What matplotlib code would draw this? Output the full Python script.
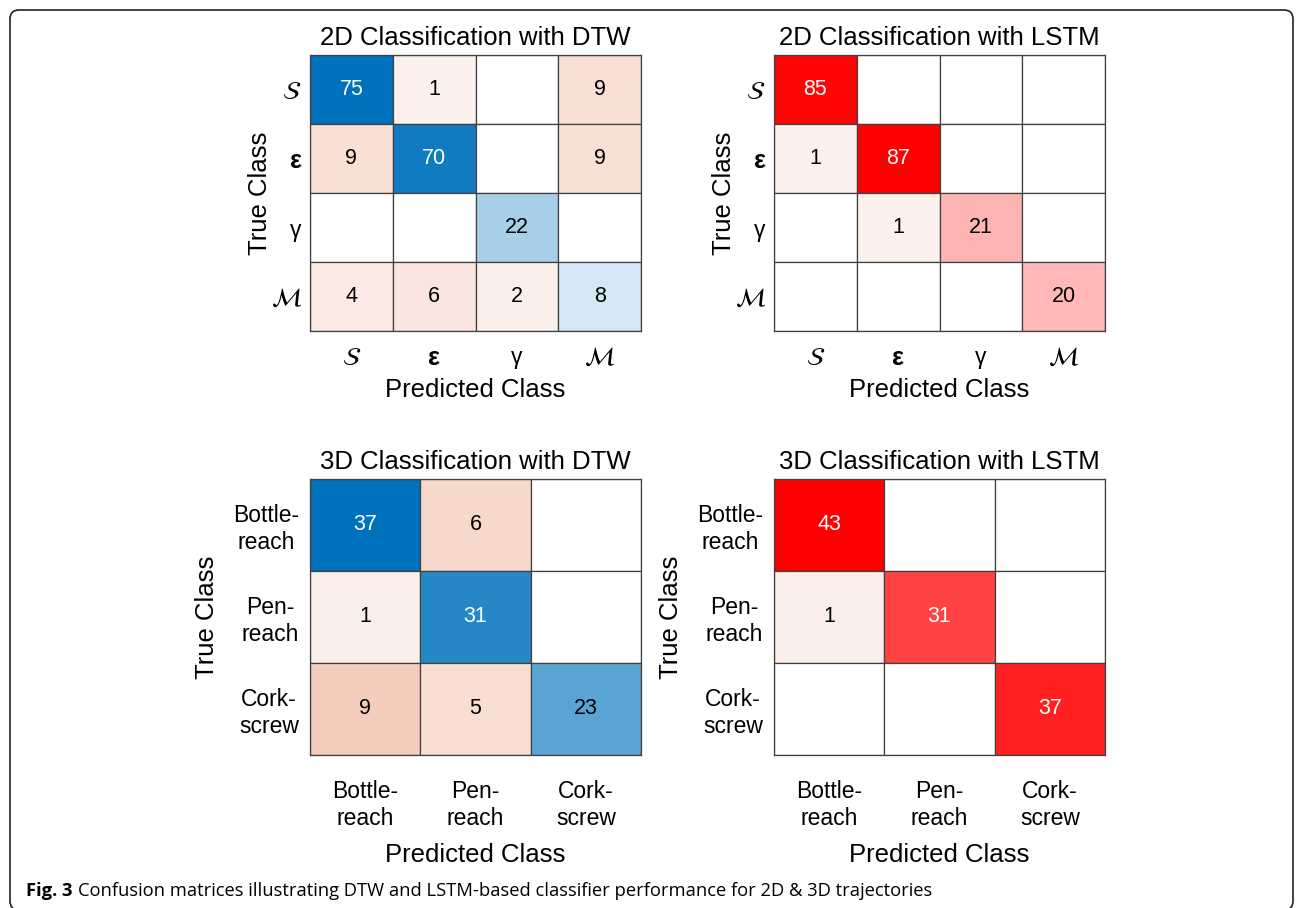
import numpy as np
import matplotlib.pyplot as plt
import matplotlib.patches as mpatch
import matplotlib.transforms as mtransforms
from matplotlib.colors import to_rgb

plt.rcParams['font.family'] = ['Liberation Sans', 'DejaVu Sans']

# class names for the two experiments
classes_2d = [r'$\mathcal{S}$', 'ε', 'γ', r'$\mathcal{M}$']
classes_3d = ['Bottle-\nreach', 'Pen-\nreach', 'Cork-\nscrew']

# counts, rows = true class, columns = predicted class (0 = empty cell)
dtw_2d = [[75, 1, 0, 9],
          [9, 70, 0, 9],
          [0, 0, 22, 0],
          [4, 6, 2, 8]]
lstm_2d = [[85, 0, 0, 0],
           [1, 87, 0, 0],
           [0, 1, 21, 0],
           [0, 0, 0, 20]]
dtw_3d = [[37, 6, 0],
          [1, 31, 0],
          [9, 5, 23]]
lstm_3d = [[43, 0, 0],
           [1, 31, 0],
           [0, 0, 37]]

titles = ['2D Classification with DTW', '2D Classification with LSTM',
          '3D Classification with DTW', '3D Classification with LSTM']

caption_head = 'Fig. 3'
caption_body = ('Confusion matrices illustrating DTW and LSTM-based classifier '
                'performance for 2D & 3D trajectories')

BLUE = '#0072BD'
ORANGE = '#D95319'
RED = '#FF0000'
GRID = '#404040'

W, H = 1296, 908


def px(x, y):
    """pixel position (from top left) -> figure fraction"""
    return x / W, 1 - y / H


def cell_colour(value, vmax, base):
    # blend the base colour with white, weaker counts are lighter
    t = min(1.0, 0.07 + 0.93 * value / vmax)
    rgb = np.array(to_rgb(base))
    return tuple(np.clip(1 - t * (1 - rgb), 0, 1))


def confusion_panel(fig, box, counts, labels, title, diag_colour, two_d):
    left, top, right, bottom = box
    x0, y0 = px(left, bottom)
    ax = fig.add_axes([x0, y0, (right - left) / W, (bottom - top) / H])

    counts = np.asarray(counts)
    n = counts.shape[0]
    vmax = counts.max()

    for i in range(n):
        for j in range(n):
            v = counts[i, j]
            if v == 0:
                fc = (1, 1, 1)
            else:
                base = diag_colour if i == j else ORANGE
                fc = cell_colour(v, vmax, base)
            ax.add_patch(mpatch.Rectangle((j - 0.5, i - 0.5), 1, 1,
                                          facecolor=fc, edgecolor=GRID,
                                          linewidth=0.9))
            if v:
                lum = 0.299 * fc[0] + 0.587 * fc[1] + 0.114 * fc[2]
                ax.text(j, i, str(v), ha='center', va='center',
                        fontsize=15.5,
                        color='white' if lum < 0.55 else 'black')

    ax.set_xlim(-0.5, n - 0.5)
    ax.set_ylim(n - 0.5, -0.5)
    for sp in ax.spines.values():
        sp.set_color(GRID)
        sp.set_linewidth(0.9)

    ax.set_xticks(range(n))
    ax.set_yticks(range(n))
    ax.set_xticklabels(labels)
    ax.set_yticklabels(labels)
    if two_d:
        ax.tick_params(axis='x', length=0, labelsize=16.5, pad=11)
        ax.tick_params(axis='y', length=0, labelsize=16.5, pad=6)
        for lab in ax.get_xticklabels() + ax.get_yticklabels():
            lab.set_math_fontfamily('stix')
            if lab.get_text() == 'ε':
                lab.set_fontweight('bold')
                lab.set_fontsize(18)
            elif lab.get_text().startswith('$'):
                lab.set_fontsize(18.5)
    else:
        ax.tick_params(axis='x', length=0, labelsize=16.5, pad=18)
        ax.tick_params(axis='y', length=0, labelsize=16.5, pad=8)
        for lab in ax.get_yticklabels():
            lab.set_multialignment('center')

    ax.set_title(title, fontsize=18.5, pad=7.5)

    # axis labels placed by pixel offsets from the cell grid
    xc = (left + right) / 2
    yc = (top + bottom) / 2
    below = 59 if two_d else 100
    fig.text(*px(xc, bottom + below), 'Predicted Class', fontsize=18.5,
             ha='center', va='center')
    beside = 50 if two_d else 103
    fig.text(*px(left - beside, yc), 'True Class', fontsize=18.5,
             rotation=90, ha='center', va='center')
    return ax


fig = plt.figure(figsize=(W / 100, H / 100), dpi=100)

confusion_panel(fig, (310, 55, 641, 331), dtw_2d, classes_2d, titles[0],
                BLUE, True)
confusion_panel(fig, (774, 55, 1105, 331), lstm_2d, classes_2d, titles[1],
                RED, True)
confusion_panel(fig, (310, 479, 641, 755), dtw_3d, classes_3d, titles[2],
                BLUE, False)
confusion_panel(fig, (774, 479, 1105, 755), lstm_3d, classes_3d, titles[3],
                RED, False)

# rounded frame round the whole figure, drawn in pixels; its lower edge
# runs just past the bottom of the canvas
frame = mpatch.FancyBboxPatch((10, -2), 1283, 900,
                              boxstyle='round,pad=0,rounding_size=9',
                              transform=mtransforms.IdentityTransform(),
                              facecolor='none', edgecolor='#222222',
                              linewidth=1.2)
fig.add_artist(frame)

# caption: bold figure number followed by the description
head = fig.text(*px(26, 896), caption_head, fontsize=13.2,
                family='Open Sans', fontweight='bold', va='baseline')
renderer = fig.canvas.get_renderer()
bb = head.get_window_extent(renderer)
fig.text((bb.x1 + 6) / W, 1 - 896 / H, caption_body, fontsize=13.2,
         family='Open Sans', va='baseline')

fig.savefig('out.png', dpi=100)
